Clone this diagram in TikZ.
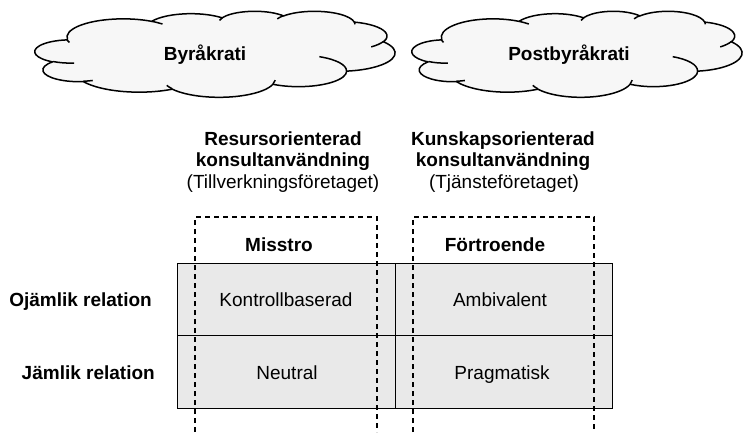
\documentclass[tikz,border=0pt]{standalone}
\usepackage{fontspec}
\setmainfont{Liberation Sans}
\definecolor{cloudfill}{HTML}{F7F7F7}
\definecolor{cellfill}{HTML}{E9E9E9}
\tikzset{
  txt/.style={inner sep=0pt, font=\fontsize{19}{22}\selectfont},
  btxt/.style={inner sep=0pt, font=\fontsize{19}{22}\selectfont\bfseries},
  cell/.style={draw, line width=1.3pt, fill=cellfill, inner sep=0pt, anchor=north west},
  lane/.style={draw, line width=1.2pt, dash pattern=on 5pt off 4pt},
  cloudline/.style={draw, line width=1.5pt, fill=cloudfill, line join=round},
  cloudinner/.style={draw, line width=1.5pt}
}
% parametric angle on an ellipse (radii #2, #3) for the direction angle #1
\makeatletter
\pgfmathdeclarefunction{vang}{3}{%
  \begingroup
    \pgfmathparse{atan2(#2*sin(#1), #3*cos(#1))}%
    \let\va\pgfmathresult
    \pgfmathparse{\va + 360*round((#1 - \va)/360)}%
    \pgfmath@smuggleone\pgfmathresult
  \endgroup}
\makeatother
% elliptic arc: radii #1,#2 (432-unit grid), start direction #3, sweep #4 (y pointing down)
\newcommand\carc[4]{arc[start angle={-vang(#3,#1,#2)}, end angle={-vang(#3+#4,#1,#2)},
  x radius={#1*\csx*1pt}, y radius={#2*\csy*1pt}]}
% cloud outline (432 x 432 unit geometry) fitted into the box x0,y0,W,H
\newcommand\drawcloud[4]{%
  \pgfmathsetmacro\csx{#3/432}%
  \pgfmathsetmacro\csy{#4/432}%
  \path[cloudline] ({#1+39.00*\csx},{#2+143.70*\csy})
    \carc{67.53}{91.90}{-190.4875}{123.7805}
    \carc{53.33}{72.67}{-144.1024}{89.9452}
    \carc{43.65}{59.45}{-145.8079}{99.7230}
    \carc{48.57}{65.95}{-130.9861}{117.2417}
    \carc{53.33}{72.73}{-78.7089}{109.0269}
    \carc{67.75}{92.20}{-46.2673}{130.2690}
    \carc{57.85}{78.67}{0.6250}{114.0333}
    \carc{67.52}{92.15}{22.4516}{115.1726}
    \carc{77.20}{105.43}{66.2426}{75.7110}
    \carc{43.60}{59.18}{-274.9421}{146.7356}
    \carc{43.45}{59.45}{-246.8285}{152.5189}
    -- cycle;
  \path[cloudinner]
    ({#1+46.93*\csx},{#2+261.77*\csy}) \carc{43.45}{59.45}{86.7420}{26.4295}
    ({#1+69.28*\csx},{#2+348.99*\csy}) \carc{43.60}{59.18}{73.6105}{11.4475}
    ({#1+164.78*\csx},{#2+390.90*\csy}) \carc{67.52}{92.15}{137.6242}{14.0811}
    ({#1+288.27*\csx},{#2+347.51*\csy}) \carc{67.52}{92.15}{6.4533}{15.9984}
    ({#1+341.29*\csx},{#2+229.54*\csy}) \carc{57.85}{78.67}{-70.2924}{70.9174}
    ({#1+417.98*\csx},{#2+153.54*\csy}) \carc{53.33}{72.73}{30.3180}{27.7515}
    ({#1+383.24*\csx},{#2+54.26*\csy}) \carc{48.57}{65.95}{-13.7443}{14.8589}
    ({#1+290.78*\csx},{#2+39.52*\csy}) \carc{48.57}{65.95}{-149.1815}{18.1954}
    ({#1+221.41*\csx},{#2+47.20*\csy}) \carc{43.65}{59.45}{-163.4943}{17.6864}
    ({#1+140.00*\csx},{#2+51.92*\csy}) \carc{67.53}{91.90}{-66.7070}{12.3194}
    ({#1+41.27*\csx},{#2+157.89*\csy}) \carc{67.53}{91.90}{151.8367}{11.3414};
}
\begin{document}
\begin{tikzpicture}[x=1pt, y=-1pt]
\useasboundingbox (0,0) rectangle (744,432);

% clouds
\drawcloud{35}{11}{360}{86}
\drawcloud{412}{11}{330}{86}
\node[btxt, anchor=base] (byr) at (205,60) {Byråkrati};
\node[btxt, anchor=base] (post) at (569,60) {Postbyråkrati};

% column headings
\node[btxt, anchor=base] (h1a) at (283,145.5) {Resursorienterad};
\node[btxt, anchor=base] (h1b) at (283,166.5) {konsultanvändning};
\node[txt, anchor=base] (h1c) at (283,188) {(Tillverkningsföretaget)};
\node[btxt, anchor=base] (h2a) at (503,145.5) {Kunskapsorienterad};
\node[btxt, anchor=base] (h2b) at (503,166.5) {konsultanvändning};
\node[txt, anchor=base] (h2c) at (504,188) {(Tjänsteföretaget)};

% matrix cells
\node[cell, minimum width=218pt, minimum height=72pt] (c11) at (177,263) {};
\node[cell, minimum width=217pt, minimum height=72pt] (c12) at (395,263) {};
\node[cell, minimum width=218pt, minimum height=73pt] (c21) at (177,335) {};
\node[cell, minimum width=217pt, minimum height=73pt] (c22) at (395,335) {};

% dashed column frames, open at the bottom
\coordinate (l1b) at (195,432);
\coordinate (l1t) at (195,217);
\coordinate (r1t) at (377,217);
\coordinate (r1b) at (377,432);
\coordinate (l2b) at (413,432);
\coordinate (l2t) at (413,217);
\coordinate (r2t) at (594,217);
\coordinate (r2b) at (594,432);
\path[lane] (l1b) -- (l1t) -- (r1t) -- (r1b);
\path[lane] (l2b) -- (l2t) -- (r2t) -- (r2b);

\node[btxt, anchor=base] (mis) at (279,251.5) {Misstro};
\node[btxt, anchor=base] (fort) at (495,251.5) {Förtroende};

% row labels
\node[btxt, anchor=base east] (row1) at (152,306) {Ojämlik relation};
\node[btxt, anchor=base east] (row2) at (155,379) {Jämlik relation};

% cell texts
\node[txt, anchor=base] (t11) at (286,306) {Kontrollbaserad};
\node[txt, anchor=base] (t12) at (500,306) {Ambivalent};
\node[txt, anchor=base] (t21) at (287,379) {Neutral};
\node[txt, anchor=base] (t22) at (502,379) {Pragmatisk};
\end{tikzpicture}
\end{document}
